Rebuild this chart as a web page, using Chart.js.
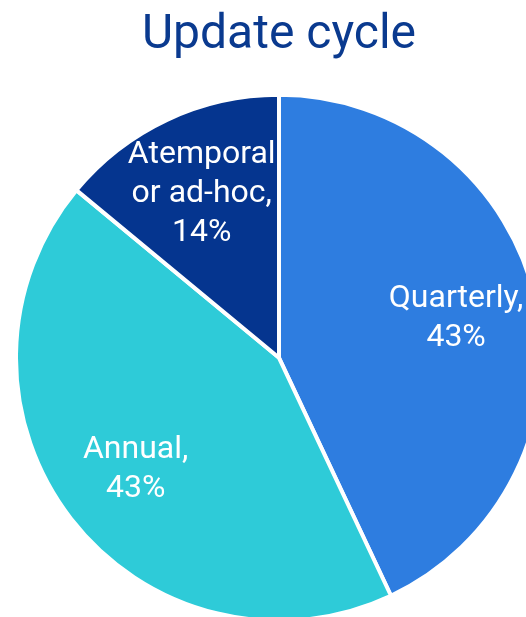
<!DOCTYPE html>
<html>
<head>
<meta charset="utf-8">
<script src="https://cdn.jsdelivr.net/npm/chart.js@4/dist/chart.umd.min.js"></script>
<style>
  html, body { margin: 0; padding: 0; background: #fff; overflow: hidden; }
  #wrap { position: relative; width: 526px; height: 617px; overflow: hidden; }
  #box { position: absolute; left: 14px; top: 0; width: 530px; height: 623px; }
</style>
</head>
<body>
<div id="wrap">
  <div id="box"><canvas id="grafico"></canvas></div>
</div>
<script>
// categorie e valori (percentuali)
const categorie = ["Quarterly", "Annual", "Atemporal or ad-hoc"]
const righeEtichetta = [["Quarterly,"], ["Annual,"], ["Atemporal", "or ad-hoc,"]]
const valori = [43, 43, 14]
const colori = ["#2e7de0", "#2ecbd8", "#05358f"]

// scrive le etichette dentro le fette
const etichettePlugin = {
    id: "etichette",
    afterDatasetsDraw(chart) {
        let ctx = chart.ctx
        let meta = chart.getDatasetMeta(0)
        ctx.save()
        ctx.fillStyle = "#fff"
        ctx.font = "32px Roboto"
        ctx.textAlign = "center"
        ctx.textBaseline = "middle"
        meta.data.forEach((arc, i) => {
            let p = arc.getProps(["x", "y", "startAngle", "endAngle", "outerRadius"], true)
            let mid = (p.startAngle + p.endAngle) / 2
            let r = p.outerRadius * 0.69
            let cx = p.x + Math.cos(mid) * r
            let cy = p.y + Math.sin(mid) * r
            let righe = righeEtichetta[i].concat([valori[i] + "%"])
            let h = 39
            let y0 = cy - (righe.length - 1) * h / 2
            righe.forEach((t, k) => ctx.fillText(t, cx, y0 + k * h))
        })
        ctx.restore()
    }
}

let grafico = new Chart(document.getElementById("grafico"), {
    type: "pie",
    data: {
        labels: categorie,
        datasets: [{
            data: valori,
            backgroundColor: colori,
            borderColor: "#fff",
            borderWidth: 4
        }]
    },
    options: {
        responsive: true,
        maintainAspectRatio: false,
        animation: false,
        layout: { padding: 0 },
        plugins: {
            legend: { display: false },
            tooltip: { enabled: false },
            title: {
                display: true,
                text: "Update cycle",
                color: "#0a3a8f",
                font: { family: "Roboto", size: 48, weight: "normal" },
                padding: { top: 7, bottom: 28 }
            }
        }
    },
    plugins: [etichettePlugin]
})
</script>
</body>
</html>
